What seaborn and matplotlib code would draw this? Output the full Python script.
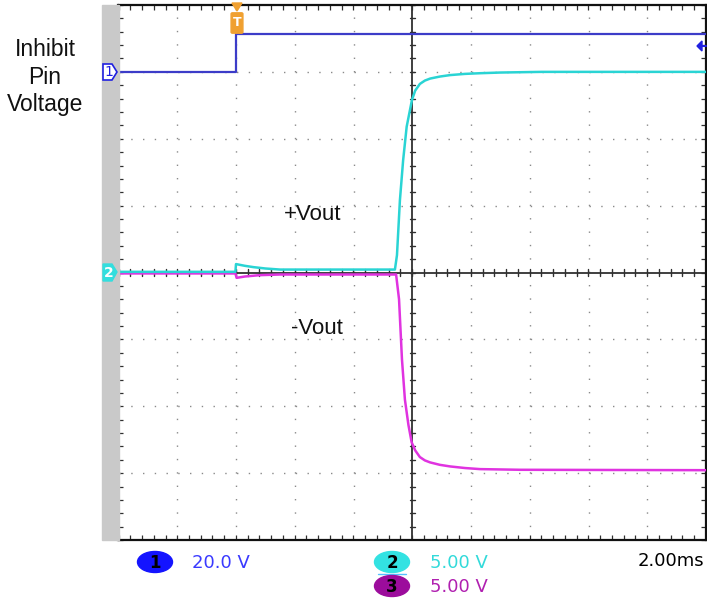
import numpy as np
import pandas as pd
import matplotlib
matplotlib.use("Agg")
import matplotlib.pyplot as plt
import seaborn as sns
from matplotlib.patches import FancyBboxPatch, Polygon, Rectangle, Ellipse

# ---------------- data (time in ms, voltage in V) ----------------
ch1_t = [-4.0, 0.0, 0.0, 0.0, 16.0]
ch1_v = [0.0, 0.0, 6.0, 11.4, 11.4]

ch2_t = [-4.0, -0.02, 0.0, 0.3, 0.6, 1.0, 1.5, 5.41, 5.48, 5.58, 5.69, 5.81,
         5.99, 6.10, 6.26, 6.43, 6.61, 6.94, 7.29, 7.80, 8.31, 8.99, 10.4, 16.0]
ch2_v = [0.05, 0.05, 0.63, 0.5, 0.4, 0.3, 0.22, 0.22, 1.3, 5.4, 8.4, 10.9,
         12.9, 13.6, 14.1, 14.35, 14.5, 14.65, 14.76, 14.85, 14.9, 14.95, 15.0, 15.0]

ch3_t = [-4.0, -0.02, 0.02, 0.3, 0.8, 1.5, 5.45, 5.55, 5.65, 5.75, 5.87, 5.98,
         6.10, 6.26, 6.43, 6.61, 6.94, 7.29, 7.80, 8.31, 9.67, 16.0]
ch3_v = [-0.07, -0.07, -0.4, -0.3, -0.2, -0.15, -0.15, -2.0, -6.5, -9.5, -11.4, -12.7,
         -13.3, -13.8, -14.05, -14.2, -14.38, -14.5, -14.62, -14.7, -14.75, -14.78]

# channel settings: (volts/div, ground offset in divisions)
ch1_scale, ch1_offset = 20.0, 3.0
ch2_scale, ch2_offset = 5.0, 0.0
ch3_scale, ch3_offset = 5.0, 0.0
time_per_div = 2.0

labels_ch = ["20.0 V", "5.00 V", "5.00 V"]
timebase_label = "2.00ms"

# ---------------- figure ----------------
W, H = 707, 598
fig = plt.figure(figsize=(W / 100, H / 100), dpi=100)
sns.set_style("white")
plt.rcParams["font.family"] = ["DejaVu Sans"]

def px(x, y):
    return (x / W, 1 - y / H)

L, R, T, B = 118.5, 706.0, 5.0, 540.0
ax = fig.add_axes([L / W, 1 - B / H, (R - L) / W, (B - T) / H])
ax.set_xlim(-4, 16)
ax.set_ylim(-4, 4)

# grey bar on the left
fig.patches.append(Rectangle(px(102, 540), 16.5 / W, 535 / H,
                             transform=fig.transFigure, color="#c9c9c9", zorder=0))

# dotted graticule
for xv in np.arange(-2, 16, 2.0):
    if xv == 6:
        continue
    ax.plot([xv, xv], [-4, 4], color="#8a8a8a", lw=1.0,
            linestyle=(0, (1, 8.63)), zorder=1)
for yv in np.arange(-3, 4, 1.0):
    if yv == 0:
        continue
    ax.plot([-4, 16], [yv, yv], color="#8a8a8a", lw=1.0,
            linestyle=(0, (1, 7.46)), zorder=1)

# centre cross
ax.axvline(6, color="#303030", lw=1.3, zorder=1.5)
ax.axhline(0, color="#303030", lw=1.3, zorder=1.5)
for xv in np.arange(-4, 16.01, 0.4):
    ax.plot([xv, xv], [-0.045, 0.045], color="#303030", lw=1.0, zorder=1.5)
for yv in np.arange(-4, 4.01, 0.2):
    ax.plot([5.92, 6.08], [yv, yv], color="#303030", lw=1.0, zorder=1.5)

# border ticks
ax.set_xticks(np.arange(-4, 16.01, 0.4))
ax.set_yticks(np.arange(-4, 4.01, 0.2))
ax.tick_params(axis="both", direction="in", length=3.5, width=0.9,
               colors="#303030", labelleft=False, labelbottom=False,
               top=True, right=True, bottom=True, left=True)
for s in ax.spines.values():
    s.set_color("#111111")
    s.set_linewidth(1.6)

# ---------------- traces ----------------
df1 = pd.DataFrame({"t": ch1_t, "div": np.array(ch1_v) / ch1_scale + ch1_offset})
df2 = pd.DataFrame({"t": ch2_t, "div": np.array(ch2_v) / ch2_scale + ch2_offset})
df3 = pd.DataFrame({"t": ch3_t, "div": np.array(ch3_v) / ch3_scale + ch3_offset})

sns.lineplot(data=df3, x="t", y="div", ax=ax, color="#e033e0", lw=1.8,
             estimator=None, sort=False, zorder=3)
sns.lineplot(data=df2, x="t", y="div", ax=ax, color="#2ad4d4", lw=1.8,
             estimator=None, sort=False, zorder=4)
sns.lineplot(data=df1, x="t", y="div", ax=ax, color="#3c3cc8", lw=1.6,
             estimator=None, sort=False, zorder=5)
ax.set_xlabel("")
ax.set_ylabel("")

# ---------------- scope markers ----------------
p1 = Polygon([px(103, 64), px(112, 64), px(117, 72), px(112, 80), px(103, 80)],
             closed=True, transform=fig.transFigure, facecolor="white",
             edgecolor="#2020e0", lw=1.2, zorder=10)
fig.patches.append(p1)
fig.text(*px(108.5, 72.5), "1", color="#2020e0", fontsize=10, ha="center",
         va="center", zorder=12)
p2 = Polygon([px(103, 264), px(112, 264), px(117, 272), px(112, 281), px(103, 281)],
             closed=True, transform=fig.transFigure, facecolor="#33dede",
             edgecolor="#33dede", lw=1.0, zorder=10)
fig.patches.append(p2)
fig.text(*px(108.5, 273), "2", color="white", fontsize=10, ha="center",
         va="center", fontweight="bold", zorder=12)

# trigger position marker
orange = "#f0a030"
fig.patches.append(Polygon([px(232, 3), px(242, 3), px(237, 11)], closed=True,
                           transform=fig.transFigure, color=orange, zorder=10))
fig.patches.append(FancyBboxPatch(px(232.5, 32), 9 / W, 18 / H,
                                  boxstyle="round,pad=0.002",
                                  transform=fig.transFigure, color=orange, zorder=10))
fig.text(*px(237, 23), "T", color="white", fontsize=9, ha="center",
         va="center", fontweight="bold", zorder=12)

# trigger level arrow at right
fig.patches.append(Polygon([px(697, 46), px(702, 41), px(702, 51)], closed=True,
                           transform=fig.transFigure, color="#2020e0", zorder=10))
fig.lines.append(plt.Line2D([700 / W, 706 / W], [1 - 46 / H, 1 - 46 / H],
                            transform=fig.transFigure, color="#2020e0", lw=1.5))

# ---------------- annotations ----------------
for i, word in enumerate(["Inhibit", "Pin", "Voltage"]):
    fig.text(*px(45, 49 + 28 * i), word, fontsize=16.5, ha="center", va="center",
             family="Liberation Sans", color="#111111", zorder=12)
fig.text(*px(313, 215), "+Vout", fontsize=16, ha="center", va="center",
         family="Liberation Sans", color="#111111", zorder=12)
fig.text(*px(317, 328), "-Vout", fontsize=16, ha="center", va="center",
         family="Liberation Sans", color="#111111", zorder=12)

# ---------------- bottom readout ----------------
badge = [("1", "#1414ff", (155, 562)), ("2", "#33e2e2", (392, 562)),
         ("3", "#9c0c9c", (392, 586))]
txtcol = ["#3a3aff", "#33dada", "#b020b0"]
for (num, col, (bx, by)), lab, tc in zip(badge, labels_ch, txtcol):
    fig.patches.append(Ellipse(px(bx, by), 35 / W, 21 / H,
                               transform=fig.transFigure, color=col, zorder=10))
    fig.text(*px(bx, by + 1), num, color="black", fontsize=12, ha="center",
             va="center", fontweight="bold", zorder=12)
    fig.text(*px(430 if num != "1" else 192, by + 1), lab, color=tc,
             fontsize=13, ha="left", va="center", zorder=12)
fig.lines.append(plt.Line2D([378 / W, 406 / W], [1 - 574 / H, 1 - 574 / H],
                            transform=fig.transFigure, color="#55c0ff", lw=1))
fig.text(*px(704, 561), timebase_label, color="black", fontsize=13,
         ha="right", va="center", zorder=12)

fig.savefig("out.png", dpi=100)
